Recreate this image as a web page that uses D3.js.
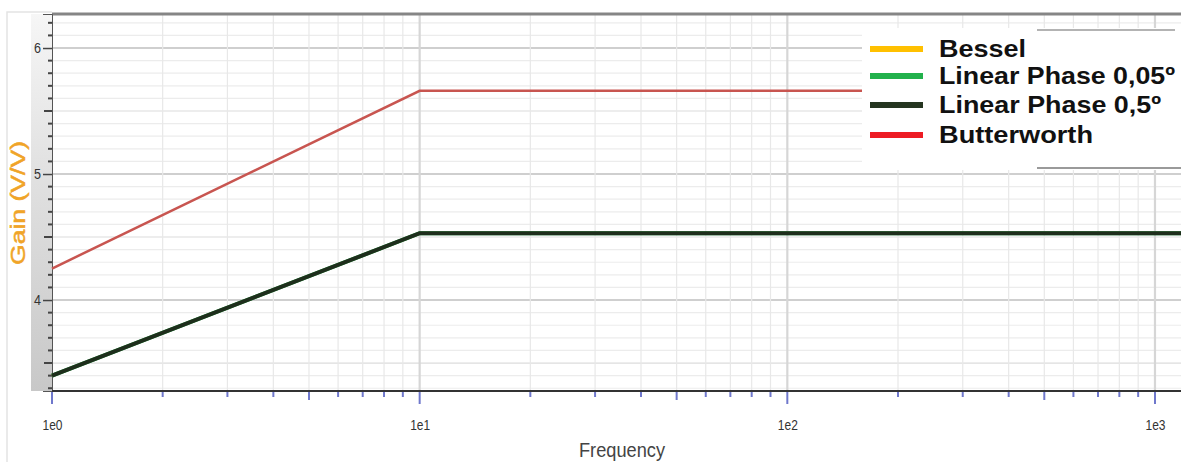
<!DOCTYPE html>
<html><head><meta charset="utf-8">
<script src="https://cdn.jsdelivr.net/npm/d3@7"></script>
<style>body{margin:0;background:#fff}svg{display:block}</style>
</head><body>
<svg id="c" width="1181" height="462"></svg>
<script>
// ---- data ----
const frequency = [1, 10, 1177];
const bessel = [3.40, 4.53, 4.53];
const linearPhase005 = [3.40, 4.53, 4.53];
const linearPhase05 = [3.40, 4.53, 4.53];
const butterworth = [4.25, 5.66, 5.66];
const seriesNames = ["Bessel", "Linear Phase 0,05º", "Linear Phase 0,5º", "Butterworth"];
const yTickLabels = [4, 5, 6];
const xTickLabels = ["1e0", "1e1", "1e2", "1e3"];

// ---- layout ----
const svg = d3.select("#c");
const L = 52, R = 1181, T = 14, B = 391;
const x = d3.scaleLog().domain([1, 1177]).range([L, R]);
const y = d3.scaleLinear().domain([3.278, 6.270]).range([B, T]);

const defs = svg.append("defs");
const g1 = defs.append("linearGradient").attr("id","band").attr("x1",0).attr("y1",0).attr("x2",0).attr("y2",1);
g1.append("stop").attr("offset","0").attr("stop-color","#f6f6f6");
g1.append("stop").attr("offset","0.4").attr("stop-color","#e2e2e2");
g1.append("stop").attr("offset","1").attr("stop-color","#c8c8c8");

// outer faint frame
svg.append("path").attr("d",`M7,462 V12 H52`).attr("fill","none").attr("stroke","#e4e4e4").attr("stroke-width",1.5);
// left band
svg.append("rect").attr("x",31).attr("y",T).attr("width",L-31).attr("height",B-T).attr("fill","url(#band)");

// horizontal grid
const yMinor = d3.range(33, 63).map(v => v/10);
svg.append("g").selectAll("line").data(yMinor).join("line")
  .attr("x1",L).attr("x2",R).attr("y1",d=>y(d)).attr("y2",d=>y(d))
  .attr("stroke", d => Math.abs(d-Math.round(d))<1e-6 ? "#cfcfcf" : (Math.abs(d*2-Math.round(d*2))<1e-6 ? "#dcdcdc" : "#ececec"))
  .attr("stroke-width", d => Math.abs(d-Math.round(d))<1e-6 ? 2 : 1.2);

// vertical grid
const xMinor = [];
for (let e = 0; e < 4; e++) for (let m = 1; m < 10; m++) { const v = m*Math.pow(10,e); if (v>1 && v<1177) xMinor.push(v); }
svg.append("g").selectAll("line").data(xMinor).join("line")
  .attr("x1",d=>x(d)).attr("x2",d=>x(d)).attr("y1",T).attr("y2",B)
  .attr("stroke", d => [10,100,1000].includes(d) ? "#d6d6d6" : "#e8e8e8")
  .attr("stroke-width", d => [10,100,1000].includes(d) ? 2.2 : 1.2);

// top border
svg.append("line").attr("x1",L).attr("x2",R).attr("y1",T).attr("y2",T).attr("stroke","#858585").attr("stroke-width",3);

// y axis
const yAxis = d3.axisLeft(y).tickValues(yTickLabels).tickSize(9).tickPadding(2).tickFormat(d3.format("d"));
const ya = svg.append("g").attr("transform",`translate(${L},0)`).call(yAxis);
ya.select(".domain").attr("stroke","#555").attr("stroke-width",1);
ya.selectAll(".tick line").attr("stroke","#444").attr("stroke-width",1.5);
ya.selectAll("text").attr("fill","#333").attr("font-family","Liberation Sans, sans-serif").attr("font-size",14)
  .attr("textLength",7).attr("lengthAdjust","spacingAndGlyphs");
svg.append("g").selectAll("line").data(yMinor.filter(d=>Math.abs(d-Math.round(d))>1e-6)).join("line")
  .attr("x1",d=> Math.abs(d*2-Math.round(d*2))<1e-6 ? L-8 : L-4).attr("x2",L).attr("y1",d=>y(d)).attr("y2",d=>y(d))
  .attr("stroke","#444").attr("stroke-width",2);

// x axis
svg.append("line").attr("x1",L).attr("x2",R).attr("y1",B).attr("y2",B).attr("stroke","#333").attr("stroke-width",2);
const xt = svg.append("g");
xt.selectAll("line").data([1].concat(xMinor)).join("line")
  .attr("x1",d=>x(d)).attr("x2",d=>x(d)).attr("y1",B+1)
  .attr("y2",d => [1,10,100,1000].includes(d) ? B+13 : ([5,50,500].includes(d) ? B+9 : B+6))
  .attr("stroke","#6f78cc").attr("stroke-width",2);
const xAxis = d3.axisBottom(x).tickValues([1,10,100,1000]).tickSize(0).tickPadding(0)
  .tickFormat((d,i)=>xTickLabels[i]);
const xa = svg.append("g").attr("transform",`translate(0,${B+39})`).call(xAxis);
xa.select(".domain").remove();
xa.selectAll("text").attr("fill","#333").attr("font-family","Liberation Sans, sans-serif").attr("font-size",15).attr("dy",0)
  .attr("textLength",20).attr("lengthAdjust","spacingAndGlyphs");

// axis titles
svg.append("text").attr("x",622).attr("y",457).attr("text-anchor","middle")
  .attr("font-family","Liberation Sans, sans-serif").attr("font-size",21).attr("fill","#444")
  .attr("textLength",86).attr("lengthAdjust","spacingAndGlyphs")
  .text("Frequency");
svg.append("text").attr("transform","translate(25,203) rotate(-90)").attr("text-anchor","middle")
  .attr("font-family","Liberation Sans, sans-serif").attr("font-size",20).attr("fill","#f0a428")
  .attr("stroke","#f0a428").attr("stroke-width",0.5)
  .attr("textLength",124).attr("lengthAdjust","spacingAndGlyphs")
  .text("Gain (V/V)");

// series
const line = d3.line().x(d=>x(d[0])).y(d=>y(d[1]));
const zip = arr => frequency.map((f,i)=>[f,arr[i]]);
const series = [
  {data: bessel, color:"#ffc000", w:3},
  {data: linearPhase005, color:"#22b14c", w:4},
  {data: linearPhase05, color:"#1e2e1c", w:4},
  {data: butterworth, color:"#c85550", w:2.5}
];
svg.append("g").selectAll("path").data(series).join("path")
  .attr("d",d=>line(zip(d.data))).attr("fill","none").attr("stroke",d=>d.color).attr("stroke-width",d=>d.w);

// legend
const lg = svg.append("g");
lg.append("rect").attr("x",862).attr("y",28).attr("width",319).attr("height",142).attr("fill","#fff");
lg.append("line").attr("x1",1037).attr("x2",1175).attr("y1",30).attr("y2",30).attr("stroke","#9a9a9a").attr("stroke-width",1.5);
lg.append("line").attr("x1",1037).attr("x2",1181).attr("y1",168).attr("y2",168).attr("stroke","#9a9a9a").attr("stroke-width",2);
const legendColors = ["#ffc000","#22b14c","#253520","#ed1c24"];
const legendY = [49, 76, 105, 135];
const legendW = [87, 236, 222, 154];
seriesNames.forEach((n,i)=>{
  lg.append("rect").attr("x",870).attr("y",legendY[i]-3).attr("width",53).attr("height",6).attr("fill",legendColors[i]);
  lg.append("text").attr("x",939).attr("y",legendY[i]+8).attr("font-family","Liberation Sans, Arial, sans-serif")
    .attr("font-weight","bold").attr("font-size",24).attr("fill","#111")
    .attr("textLength",legendW[i]).attr("lengthAdjust","spacingAndGlyphs").text(n);
});
</script>
</body></html>
